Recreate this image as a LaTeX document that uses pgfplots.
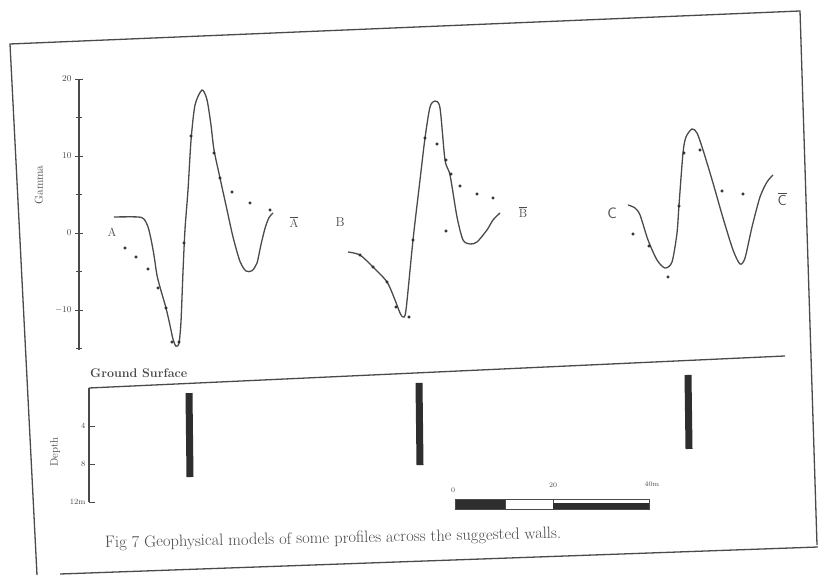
\documentclass[border=0pt]{standalone}
\usepackage{pgfplots}
\pgfplotsset{compat=1.18}
\definecolor{ink}{HTML}{4A4A4A}
\definecolor{inkd}{HTML}{2E2E2E}
\begin{document}
\begin{tikzpicture}
\useasboundingbox (0,0) rectangle (818pt,575pt);
\fill[white] (0,0) rectangle (818pt,575pt);
% page frame of the scan (slightly tilted)
\draw[ink, line width=1.3pt] (37pt,0pt) -- (10pt,531pt) -- (800pt,564pt) -- (817pt,30pt);
\draw[ink, line width=1.3pt] (60pt,1pt) -- (818pt,28pt);

% ---------------- upper panel: magnetic profiles ----------------
\begin{axis}[
  scale only axis, anchor=south west, at={(79pt,225pt)},
  width=739pt, height=271pt,
  xmin=79, xmax=818, ymin=-15.2, ymax=20,
  axis x line=none, axis y line=left,
  y axis line style={-, ink, line width=1.2pt},
  ytick={-10,0,10,20}, minor ytick={-15,-5,5,15},
  major tick length=8pt, minor tick length=6pt, tick align=center,
  every tick/.style={ink, line width=0.9pt},
  yticklabel style={font=\fontsize{9}{10}\selectfont, text=ink},
  clip=false,
]
% profile A
\addplot[smooth, tension=0.45, ink, line width=1.3pt] coordinates {
(114,2.08) (138,2.08) (144,1.8) (148,0.8) (151,-0.8) (154,-2.9) (157,-5.5) (161,-7.5)
(166,-9.74) (170,-12.0) (173,-13.8) (176,-14.7) (179,-14.3) (181,-11.5) (183,-5.0)
(185,0.5) (188,5.58) (191,12.0) (195,16.62) (202,18.57) (207,17.3) (211,14.0)
(214,10.78) (220,7.14) (227,3.0) (233,-0.52) (240,-3.7) (246,-4.94) (252,-4.9)
(257,-3.90) (261,-1.5) (265,0.6) (269,2.0) (273,2.60)};
\addplot[only marks, mark=*, mark size=1.3pt, inkd] coordinates {
(125,-1.95) (136,-3.12) (148,-4.68) (158,-7.14) (166,-9.74) (172,-14.16) (179,-14.16)
(184,-1.30) (191,12.60) (214,10.39) (220,7.14) (232,5.32) (250,3.90) (270,2.99)};
% profile B
\addplot[smooth, tension=0.45, ink, line width=1.3pt] coordinates {
(348,-2.47) (360,-2.86) (373,-4.42) (387,-6.36) (395,-8.70) (400,-10.39) (403,-10.91)
(406,-10.00) (413,-0.91) (420,6.88) (425,12.34) (430,16.36) (435,17.14) (440,16.23)
(445,9.48) (450,7.53) (457,2.08) (463,-0.91) (470,-1.43) (477,-1.17) (487,0.39)
(493,1.69) (500,2.60)};
\addplot[only marks, mark=*, mark size=1.3pt, inkd] coordinates {
(360,-2.86) (373,-4.42) (387,-6.36) (396,-9.61) (409,-10.91) (413,-0.91) (425,12.34)
(437,11.56) (446,9.48) (451,7.66) (460,6.10) (477,5.06) (493,4.55) (446,0.26)};
% profile C
\addplot[smooth, tension=0.45, ink, line width=1.3pt] coordinates {
(628,3.64) (635,3.25) (640,2.34) (648,-0.91) (657,-3.51) (665,-4.55) (672,-3.77)
(677,0) (679,3.64) (683,10.39) (686,12.47) (692,13.51) (697,12.99) (703,10.78)
(713,6.49) (723,1.95) (733,-2.21) (740,-4.03) (745,-3.25) (752,0.78) (760,4.68)
(767,6.62) (773,7.53)};
\addplot[only marks, mark=*, mark size=1.3pt, inkd] coordinates {
(633,-0.13) (649,-1.69) (668,-5.71) (679,3.51) (684,10.39) (700,10.78) (722,5.45) (743,5.06)};
% profile end labels
\node[font=\fontsize{12}{12}\selectfont, text=ink] at (axis cs:112,0.13) {A};
\node[font=\fontsize{12}{12}\selectfont, text=ink] at (axis cs:294,1.4) {$\overline{\mathrm{A}}$};
\node[font=\fontsize{13}{13}\selectfont, text=ink] at (axis cs:340,1.43) {B};
\node[font=\fontsize{13}{13}\selectfont, text=ink] at (axis cs:523,2.7) {$\overline{\mathrm{B}}$};
\node[font=\fontsize{15}{15}\selectfont\sffamily, text=ink] at (axis cs:612,2.6) {C};
\node[font=\fontsize{15}{15}\selectfont, text=ink] at (axis cs:782,4.4) {$\overline{\mathsf{C}}$};
\end{axis}
\node[rotate=90, font=\fontsize{11.5}{12}\selectfont, text=ink] at (39pt,390pt) {Gamma};

% ---------------- lower panel: depth section ----------------
\begin{axis}[
  scale only axis, anchor=south west, at={(89pt,73pt)},
  width=729pt, height=114pt,
  xmin=89, xmax=818, ymin=0, ymax=12, y dir=reverse,
  axis x line=none, axis y line=left,
  y axis line style={-, ink, line width=1.2pt},
  ytick={4,8,12}, yticklabels={4,8,12m},
  major tick length=6pt, tick align=inside,
  every tick/.style={ink, line width=0.9pt},
  yticklabel style={font=\fontsize{8}{9}\selectfont, text=ink},
  clip=false,
]
% ground surface
\draw[ink, line width=1.3pt] (axis cs:89,0) -- (axis cs:785,-3.37);
% walls
\addplot[line width=7pt, inkd] coordinates {(189,0.53) (190,9.37)};
\addplot[line width=7pt, inkd] coordinates {(419,-0.53) (420,8.11)};
\addplot[line width=7pt, inkd] coordinates {(688,-1.37) (689,6.42)};
\end{axis}
\node[anchor=base west, inner sep=0pt, font=\fontsize{12.5}{13}\selectfont\bfseries, text=ink] at (90pt,197pt) {Ground Surface};
\node[rotate=90, font=\fontsize{11}{11}\selectfont, text=ink] at (55pt,123pt) {Depth};

% scale bar
\fill[inkd] (455pt,66pt) rectangle (505pt,76pt);
\draw[ink, line width=0.8pt, fill=white] (505pt,66pt) rectangle (553pt,76pt);
\fill[inkd] (553pt,66pt) rectangle (649pt,72pt);
\draw[ink, line width=0.8pt] (455pt,66pt) rectangle (649pt,76pt);
\node[font=\fontsize{7}{8}\selectfont, text=ink] at (453pt,85pt) {0};
\node[font=\fontsize{7}{8}\selectfont, text=ink] at (553pt,90pt) {20};
\node[font=\fontsize{7}{8}\selectfont, text=ink] at (652pt,91pt) {40m};

% caption
\node[anchor=base west, inner sep=0pt, rotate=1.2, font=\fontsize{16.5}{18}\selectfont, text=ink] at (105pt,27pt) {Fig 7 Geophysical models of some profiles across the suggested walls.};
\end{tikzpicture}
\end{document}
